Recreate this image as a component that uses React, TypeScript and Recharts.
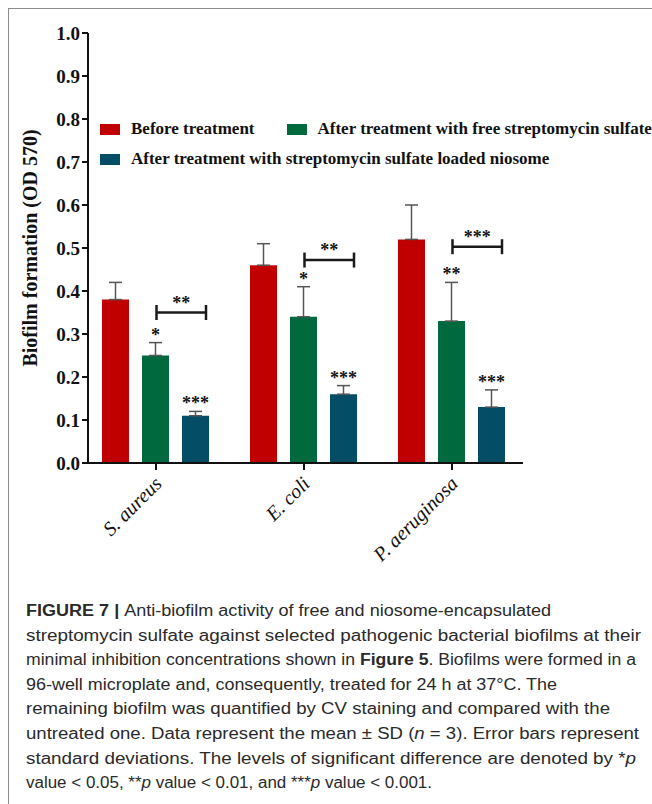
import { Bar, BarChart, ErrorBar, LabelList, Legend, XAxis, YAxis } from 'recharts';

const categories = ['S. aureus', 'E. coli', 'P. aeruginosa'];
const beforeValues = [0.38, 0.46, 0.52];
const beforeSd = [0.04, 0.05, 0.08];
const freeValues = [0.25, 0.34, 0.33];
const freeSd = [0.03, 0.07, 0.09];
const niosomeValues = [0.11, 0.16, 0.13];
const niosomeSd = [0.01, 0.02, 0.04];
const freeStars = ['*', '*', '**'];
const niosomeStars = ['***', '***', '***'];
const bracketLevels = [0.35, 0.472, 0.503];
const bracketStars = ['**', '**', '***'];
const yTicks = [0, 0.1, 0.2, 0.3, 0.4, 0.5, 0.6, 0.7, 0.8, 0.9, 1.0];

const SERIES = [
  { key: 'before', name: 'Before treatment', color: '#c00000' },
  { key: 'free', name: 'After treatment with free streptomycin sulfate', color: '#006a3e' },
  { key: 'niosome', name: 'After treatment with streptomycin sulfate loaded niosome', color: '#034e66' },
];

const BAR_GAP = 13;
const SERIF = '"Liberation Serif", "Times New Roman", serif';
const SANS = '"Liberation Sans", Arial, sans-serif';

const data = categories.map((name, i) => ({
  name,
  before: beforeValues[i],
  beforeErr: [0, beforeSd[i]],
  free: freeValues[i],
  freeErr: [0, freeSd[i]],
  niosome: niosomeValues[i],
  niosomeErr: [0, niosomeSd[i]],
}));

const captionLines = [
  { len: 525, parts: [{ t: 'FIGURE 7 | ', b: true }, { t: 'Anti-biofilm activity of free and niosome-encapsulated' }] },
  { len: 615, parts: [{ t: 'streptomycin sulfate against selected pathogenic bacterial biofilms at their' }] },
  {
    len: 610,
    parts: [
      { t: 'minimal inhibition concentrations shown in ' },
      { t: 'Figure 5', b: true },
      { t: '. Biofilms were formed in a' },
    ],
  },
  { len: 531, parts: [{ t: '96-well microplate and, consequently, treated for 24 h at 37°C. The' }] },
  { len: 584, parts: [{ t: 'remaining biofilm was quantified by CV staining and compared with the' }] },
  {
    len: 613,
    parts: [
      { t: 'untreated one. Data represent the mean ± SD (' },
      { t: 'n', i: true },
      { t: ' = 3). Error bars represent' },
    ],
  },
  {
    len: 610,
    parts: [{ t: 'standard deviations. The levels of significant difference are denoted by *' }, { t: 'p', i: true }],
  },
  {
    len: 406,
    parts: [
      { t: 'value < 0.05, **' },
      { t: 'p', i: true },
      { t: ' value < 0.01, and ***' },
      { t: 'p', i: true },
      { t: ' value < 0.001.' },
    ],
  },
];

// y pixel of a data value, worked out from the bar's own geometry
function valueToY(props: any, v: number) {
  const base = props.y + props.height;
  return base - (v * props.height) / props.value;
}

function makeStarLabel(stars: string[], sds: number[]) {
  return (props: any) => {
    const { x, width, value, index } = props;
    const top = valueToY(props, value + sds[index]);
    return (
      <text
        x={x + width / 2}
        y={top - 2}
        textAnchor="middle"
        fontFamily={SERIF}
        fontWeight="bold"
        fontSize={18}
        fill="#111"
      >
        {stars[index]}
      </text>
    );
  };
}

function BracketLabel(props: any) {
  const { x, width, index } = props;
  const y = valueToY(props, bracketLevels[index]);
  const x1 = x - BAR_GAP - width / 2 + 1;
  const x2 = x + width - 3;
  return (
    <g>
      <line x1={x1} x2={x2} y1={y} y2={y} stroke="#1a1a1a" strokeWidth={2.5} />
      <line x1={x1} x2={x1} y1={y - 7.5} y2={y + 7.5} stroke="#1a1a1a" strokeWidth={2.5} />
      <line x1={x2} x2={x2} y1={y - 7.5} y2={y + 7.5} stroke="#1a1a1a" strokeWidth={2.5} />
      <text
        x={(x1 + x2) / 2}
        y={y - 4}
        textAnchor="middle"
        fontFamily={SERIF}
        fontWeight="bold"
        fontSize={18}
        fill="#111"
      >
        {bracketStars[index]}
      </text>
    </g>
  );
}

function CategoryTick({ x, y, payload }: any) {
  return (
    <g transform={`translate(${x + 7},${y + 13})`}>
      <text
        x={0}
        y={0}
        textAnchor="end"
        transform="rotate(-45)"
        fontFamily={SERIF}
        fontStyle="italic"
        fontSize={20}
        fill="#111"
      >
        {payload.value}
      </text>
    </g>
  );
}

function LegendItem({ color, value }: { color: string; value: string }) {
  return (
    <span style={{ display: 'inline-flex', alignItems: 'center', marginRight: 32, flexShrink: 0 }}>
      <span style={{ width: 20, height: 11, background: color, display: 'inline-block', marginRight: 11 }} />
      <span>{value}</span>
    </span>
  );
}

function renderLegend() {
  const rowStyle = { display: 'flex', alignItems: 'center', height: 30, whiteSpace: 'nowrap' as const };
  return (
    <div style={{ fontFamily: SERIF, fontWeight: 'bold', fontSize: 17, color: '#111', whiteSpace: 'nowrap' }}>
      <div style={rowStyle}>
        <LegendItem color={SERIES[0].color} value={SERIES[0].name} />
        <LegendItem color={SERIES[1].color} value={SERIES[1].name} />
      </div>
      <div style={rowStyle}>
        <LegendItem color={SERIES[2].color} value={SERIES[2].name} />
      </div>
    </div>
  );
}

export default function App() {
  return (
    <div
      style={{ position: 'absolute', left: 0, top: 0, width: 652, height: 804, background: '#fff', overflow: 'hidden' }}
    >
      <div
        style={{
          position: 'absolute',
          left: 8,
          top: 8,
          width: 660,
          height: 820,
          borderLeft: '1.5px solid #8c8c8c',
          borderTop: '1.5px solid #8c8c8c',
        }}
      />
      <div style={{ position: 'absolute', left: 0, top: 0 }}>
        <BarChart
          width={652}
          height={600}
          data={data}
          margin={{ top: 33, right: 129, bottom: 47, left: 0 }}
          barGap={BAR_GAP}
          barCategoryGap={20}
        >
          <XAxis
            dataKey="name"
            height={90}
            padding={{ left: -6, right: -3 }}
            axisLine={{ stroke: '#111', strokeWidth: 2 }}
            tickLine={{ stroke: '#111', strokeWidth: 2 }}
            tickSize={7}
            tickMargin={2}
            interval={0}
            tick={<CategoryTick />}
          />
          <YAxis
            width={88}
            domain={[0, 1]}
            ticks={yTicks}
            interval={0}
            axisLine={{ stroke: '#111', strokeWidth: 2 }}
            tickLine={{ stroke: '#111', strokeWidth: 2 }}
            tickSize={6}
            tickMargin={2}
            tickFormatter={(v: number) => v.toFixed(1)}
            tick={{ fontFamily: SERIF, fontWeight: 'bold', fontSize: 19, fill: '#111' }}
            label={{
              value: 'Biofilm formation (OD 570)',
              angle: -90,
              position: 'insideLeft',
              offset: 30,
              style: { textAnchor: 'middle', fontFamily: SERIF, fontWeight: 'bold', fontSize: 20, fill: '#111' },
            }}
          />
          <Legend
            layout="horizontal"
            verticalAlign="middle"
            align="center"
            content={renderLegend}
            wrapperStyle={{ position: 'absolute', left: 100, top: 114, width: 560, height: 60 }}
          />
          <Bar dataKey="before" name={SERIES[0].name} fill={SERIES[0].color} isAnimationActive={false}>
            <ErrorBar dataKey="beforeErr" width={6.5} stroke="#555" strokeWidth={1.5} direction="y" />
          </Bar>
          <Bar dataKey="free" name={SERIES[1].name} fill={SERIES[1].color} isAnimationActive={false}>
            <ErrorBar dataKey="freeErr" width={6.5} stroke="#555" strokeWidth={1.5} direction="y" />
            <LabelList dataKey="free" content={makeStarLabel(freeStars, freeSd)} />
          </Bar>
          <Bar dataKey="niosome" name={SERIES[2].name} fill={SERIES[2].color} isAnimationActive={false}>
            <ErrorBar dataKey="niosomeErr" width={6.5} stroke="#555" strokeWidth={1.5} direction="y" />
            <LabelList dataKey="niosome" content={makeStarLabel(niosomeStars, niosomeSd)} />
            <LabelList dataKey="niosome" content={BracketLabel} />
          </Bar>
        </BarChart>
      </div>
      <svg width={652} height={214} style={{ position: 'absolute', left: 0, top: 590 }}>
        {captionLines.map((line, i) => (
          <text
            key={i}
            x={26}
            y={26 + i * 24.6}
            textLength={line.len}
            lengthAdjust="spacingAndGlyphs"
            fontFamily={SANS}
            fontSize={16}
            fill="#2a2a2a"
          >
            {line.parts.map((p: any, j) => (
              <tspan key={j} fontWeight={p.b ? 'bold' : undefined} fontStyle={p.i ? 'italic' : undefined}>
                {p.t}
              </tspan>
            ))}
          </text>
        ))}
      </svg>
    </div>
  );
}
